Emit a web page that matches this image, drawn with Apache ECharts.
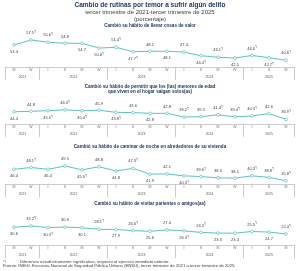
<!DOCTYPE html>
<html>
<head>
<meta charset="utf-8">
<script src="https://cdn.jsdelivr.net/npm/echarts@6/dist/echarts.min.js"></script>
<style>html,body{margin:0;padding:0;background:#fff}#c{width:300px;height:271px}</style>
</head>
<body>
<div id="c"></div>
<script>
// ---- data ----
const quarters = ['III','IV','I','II','III','IV','I','II','III','IV','I','II','III','IV','I','II','III'];
const quarterYears = ['2021','2021','2022','2022','2022','2022','2023','2023','2023','2023','2024','2024','2024','2024','2025','2025','2025'];

const titles = [
  'Cambió su hábito de llevar cosas de valor',
  'Cambió su hábito de permitir que los (las) menores de edad\nque viven en el hogar salgan solos(as)',
  'Cambió su hábito de caminar de noche en alrededores de su vivienda',
  'Cambió su hábito de visitar parientes o amigos(as)'
];

const valoresObjetos = [53.4, 57.5, 55.6, 54.8, 54.7, 50.8, 51.4, 47.7, 48.1, 48.1, 47.4, 44.4, 43.1, 42.5, 44.6, 42.7, 40.6];
const sigObjetos     = [0,1,1,0,0,1,1,1,0,0,0,1,1,0,1,1,1];

const valoresMenores = [44.4, 44.8, 45.5, 46.3, 45.4, 45.9, 43.8, 43.6, 42.8, 42.8, 39.2, 39.5, 41.4, 39.4, 40.3, 42.6, 36.9];
const sigMenores     = [0,0,1,1,1,0,1,0,0,0,1,0,1,1,1,0,1];

const valoresCaminar = [46.4, 48.1, 46.4, 49.5, 45.9, 48.8, 44.8, 47.3, 41.9, 42.1, 40.3, 39.6, 38.5, 38.1, 40.3, 38.8, 35.8];
const sigCaminar     = [0,1,0,0,1,0,0,1,0,0,1,1,0,0,1,1,1];

const valoresVisitar = [30.6, 32.2, 30.3, 30.9, 30.1, 28.1, 27.9, 26.6, 25.6, 27.4, 26.3, 24.3, 23.5, 23.4, 25.5, 24.7, 22.4];
const sigVisitar     = [0,1,1,0,0,1,0,1,0,0,1,1,0,0,1,0,1];

// ---- layout / style ----
const panels = [
  {vals: valoresObjetos, sig: sigObjetos, top: 30, height: 37, min: 35, max: 65.8,
   pos: 'btttbbtbtbtbtbtbt', titleTop: 23.3},
  {vals: valoresMenores, sig: sigMenores, top: 100, height: 24.3, min: 32, max: 56,
   pos: 'btbtbtbtbtttttttt', titleTop: 83.6},
  {vals: valoresCaminar, sig: sigCaminar, top: 160, height: 24.3, min: 32.4, max: 55.1,
   pos: 'btbtbtbtbtbtttttt', titleTop: 144.2},
  {vals: valoresVisitar, sig: sigVisitar, top: 215, height: 30.3, min: 8.5, max: 45.7,
   pos: 'btbtbtbtbtbtbbtbt', titleTop: 200.9}
];

const LINE = '#5bc3c0';
const AXIS = '#bfbfbf';
const NAVY = '#1f3864';
const FONT = 'Liberation Sans, Arial, sans-serif';

// year boundaries and centers from quarterYears
const years = [];
const bounds = [0];
const centers = [];
quarterYears.forEach((y, i) => {
  if (years.indexOf(y) < 0) years.push(y);
  if (i > 0 && quarterYears[i - 1] !== y) bounds.push(i);
});
bounds.push(quarterYears.length);
for (let k = 0; k < years.length; k++) centers.push((bounds[k] + bounds[k + 1]) / 2);

const grids = [], xAxes = [], yAxes = [], series = [];
const titleList = [
  {text: 'Cambio de rutinas por temor a sufrir algún delito', left: 'center', top: 1.3, padding: 0,
   textStyle: {fontSize: 6.5, fontWeight: 'bold', color: NAVY, fontFamily: FONT}},
  {text: 'tercer trimestre de 2021-tercer trimestre de 2025\n(porcentaje)', left: 'center', top: 9.4, padding: 0,
   textStyle: {fontSize: 6, fontWeight: 'normal', color: '#404040', fontFamily: FONT, lineHeight: 6.5}},
  {text: '*/', left: 3, top: 259.6, padding: 0, textStyle: {fontSize: 4.2, fontWeight: 'normal', color: '#404040', fontFamily: FONT}},
  {text: 'Diferencia estadísticamente significativa, respecto al ejercicio inmediato anterior.', left: 20, top: 259.6, padding: 0,
   textStyle: {fontSize: 4.2, fontWeight: 'normal', color: '#404040', fontFamily: FONT}},
  {text: 'Fuente: INEGI. Encuesta Nacional de Seguridad Pública Urbana (ENSU), tercer trimestre de 2021 a tercer trimestre de 2025.', left: 3, top: 264, padding: 0,
   textStyle: {fontSize: 4.2, fontWeight: 'normal', color: '#404040', fontFamily: FONT}}
];

panels.forEach((p, i) => {
  titleList.push({text: titles[i], left: 'center', top: p.titleTop, padding: 0,
    textStyle: {fontSize: 4.6, fontWeight: 'bold', color: NAVY, fontFamily: FONT, lineHeight: 5.5}});
  grids.push({left: 5.5, right: 5.5, top: p.top, height: p.height});
  xAxes.push({type: 'category', gridIndex: i, data: quarters, boundaryGap: true, position: 'bottom',
    axisLine: {show: true, lineStyle: {color: AXIS, width: 0.8}},
    axisTick: {show: false},
    axisLabel: {fontSize: 3.4, color: '#595959', margin: 1.6, fontFamily: FONT, interval: 0}});
  xAxes.push({type: 'value', gridIndex: i, min: 0, max: quarters.length, position: 'bottom',
    axisLine: {show: false}, splitLine: {show: false},
    axisTick: {show: true, customValues: bounds, length: 13, lineStyle: {color: AXIS, width: 0.8}},
    axisLabel: {show: true, customValues: centers, fontSize: 3.4, color: '#595959', margin: 8.6, fontFamily: FONT,
      formatter: v => { const k = centers.indexOf(v); return k >= 0 ? years[k] : ''; }}});
  yAxes.push({type: 'value', gridIndex: i, min: p.min, max: p.max, show: false});
  series.push({
    type: 'line', xAxisIndex: 2 * i, yAxisIndex: i,
    data: p.vals.map((v, j) => ({
      value: v,
      label: {position: p.pos[j] === 't' ? 'top' : 'bottom'}
    })),
    lineStyle: {color: LINE, width: 1},
    itemStyle: {color: '#fff', borderColor: LINE, borderWidth: 0.7},
    symbol: 'circle', symbolSize: 2.8, showAllSymbol: true,
    label: {show: true, distance: 3, color: '#404040', fontFamily: FONT,
      formatter: (prm) => p.sig[prm.dataIndex] ? '{v|' + prm.value.toFixed(1) + '}{s|*/}' : '{v|' + prm.value.toFixed(1) + '}',
      rich: {v: {fontSize: 4, color: '#404040', fontFamily: FONT},
             s: {fontSize: 2.8, color: '#404040', fontFamily: FONT, padding: [0, 0, 1.5, 0]}}},
    animation: false, silent: true
  });
});

const chart = echarts.init(document.getElementById('c'), null, {renderer: 'canvas'});
chart.setOption({
  animation: false,
  backgroundColor: '#fff',
  title: titleList,
  grid: grids,
  xAxis: xAxes,
  yAxis: yAxes,
  series: series
});
</script>
</body>
</html>
